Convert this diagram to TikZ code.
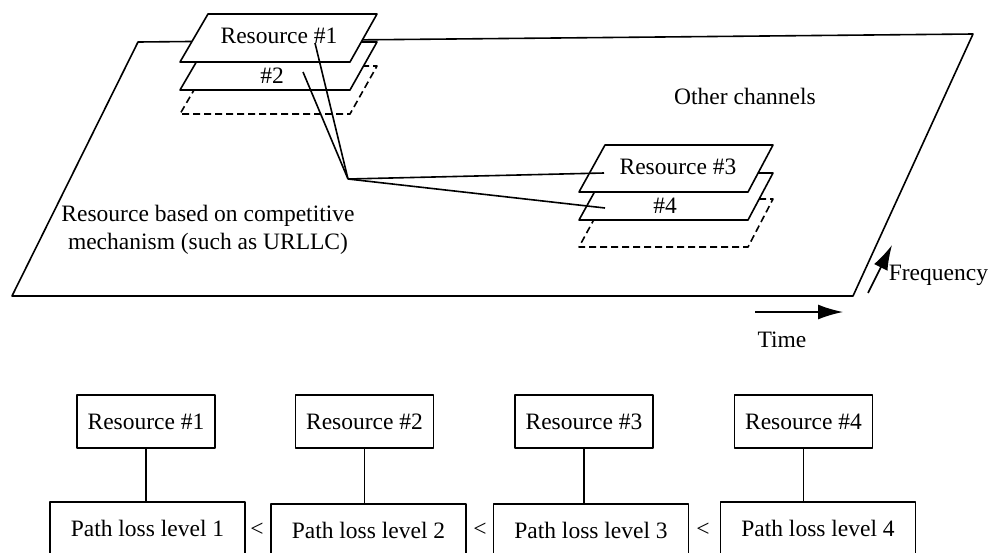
\documentclass[tikz,border=0pt]{standalone}
\usepackage{fontspec}
\setmainfont{Liberation Serif}
\usetikzlibrary{arrows.meta}
\begin{document}
\begin{tikzpicture}[x=1pt,y=-1pt, line width=1.6pt, line join=round,
  lbl/.style={font=\fontsize{23.5}{28}\selectfont, inner sep=0pt},
  plane/.style={draw, fill=white},
  ghost/.style={draw, fill=white, dash pattern=on 7pt off 4pt},
  resbox/.style={draw, lbl, minimum width=138pt, minimum height=53pt},
  plbox/.style={draw, lbl, minimum width=195pt, minimum height=53pt},
  link/.style={line width=1.6pt},
  axis/.style={-{Latex[length=25pt,width=15pt]}}]
\useasboundingbox (0,0) rectangle (992,552);
\clip (0,0) rectangle (992,552);
% big plane
\draw (12,296) -- (138,42) -- (973,34) -- (853,296) -- cycle;
% left stack
\draw[ghost] (208,66) -- (377,66) -- (350,114) -- (180,114) -- cycle;
\draw[plane] (208,42) -- (377,42) -- (350,90) -- (180,90) -- cycle;
\draw[plane] (208,14) -- (377,14) -- (350,62) -- (180,62) -- cycle;
% right stack
\draw[ghost] (605,199) -- (773,199) -- (748,247) -- (579,247) -- cycle;
\draw[plane] (605,173) -- (773,173) -- (748,220) -- (579,220) -- cycle;
\draw[plane] (605,145) -- (773,145) -- (748,192) -- (579,192) -- cycle;
% labels
\node[lbl] (t1) at (279,36) {Resource \#1};
\node[lbl] (t2) at (272,76) {\#2};
\node[lbl] (t3) at (678,167) {Resource \#3};
\node[lbl] (t4) at (665,206) {\#4};
\node[lbl] (oc) at (745,96) {Other channels};
\node[lbl, align=center] (comp) at (208,230) {Resource based on competitive\\mechanism (such as URLLC)};
% connectors
\coordinate (a1) at (315,43);
\coordinate (a2) at (303,72);
\coordinate (hub) at (348,179);
\coordinate (a3) at (604,173);
\coordinate (a4) at (605,208);
\draw[link] (a1) -- (hub);
\draw[link] (a2) -- (hub);
\draw[link] (hub) -- (a3);
\draw[link] (hub) -- (a4);
% axes
\coordinate (ts) at (755,312);
\coordinate (te) at (843,312);
\draw[axis] (ts) -- (te);
\node[lbl] (time) at (782,340) {Time};
\coordinate (fs) at (868,293);
\coordinate (fe) at (892,245);
\draw[axis] (fs) -- (fe);
\node[lbl, anchor=west] (freq) at (888,275) {Frequency};
% bottom
\node[resbox] (r1) at (146,421.5) {Resource \#1};
\node[resbox] (r2) at (364.5,421.5) {Resource \#2};
\node[resbox] (r3) at (584,421.5) {Resource \#3};
\node[resbox] (r4) at (803.5,421.5) {Resource \#4};
\node[plbox] (p1) at (147.5,528.5) {Path loss level 1};
\node[plbox] (p2) at (368.5,530.5) {Path loss level 2};
\node[plbox] (p3) at (591,530.5) {Path loss level 3};
\node[plbox] (p4) at (818,528.5) {Path loss level 4};
\foreach \i in {1,2,3,4} \draw (r\i.south) -- (r\i.south |- p\i.north);
\node[lbl] (lt1) at (257,530) {<};
\node[lbl] (lt2) at (480,530) {<};
\node[lbl] (lt3) at (703,530) {<};
\end{tikzpicture}
\end{document}
